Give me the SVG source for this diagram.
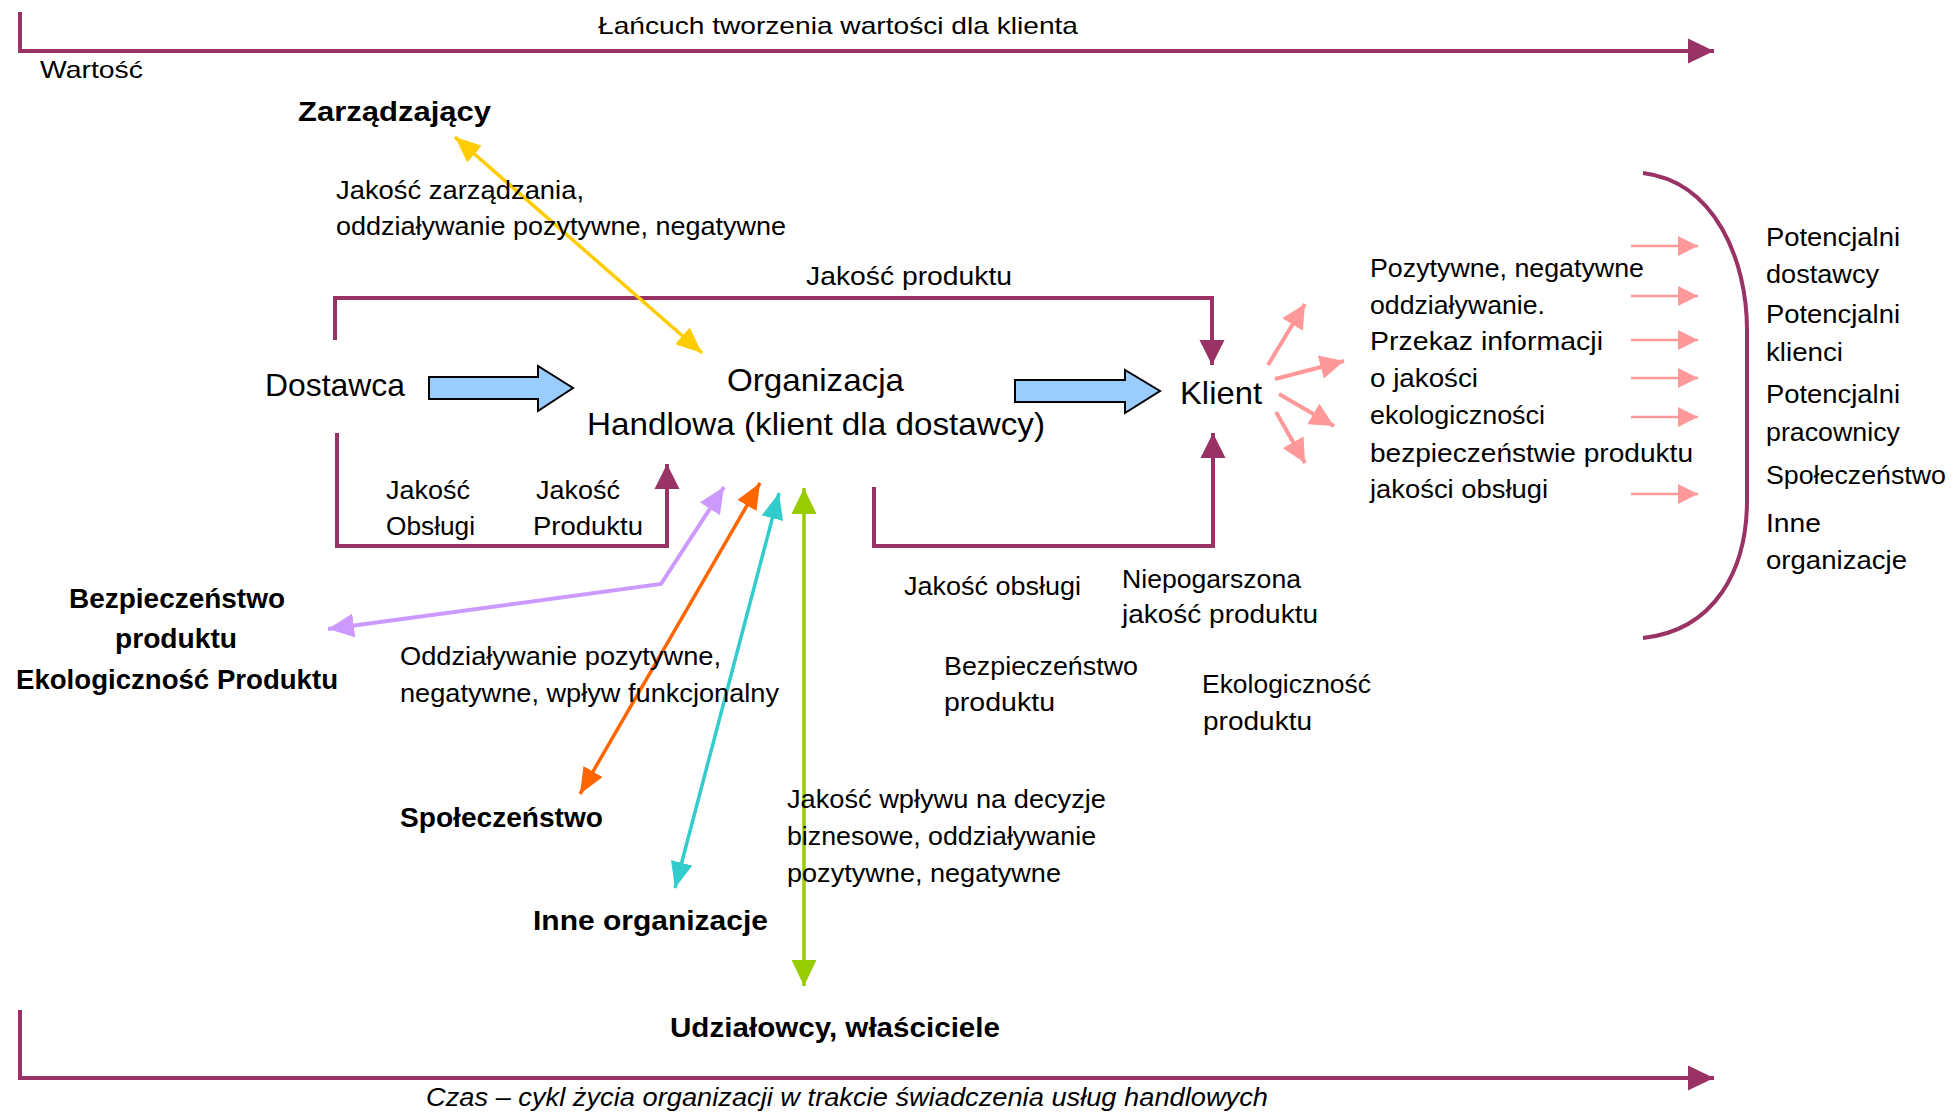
<svg xmlns="http://www.w3.org/2000/svg" width="1955" height="1114" viewBox="0 0 1955 1114">
<style>
text{font-family:"Liberation Sans",Arial,sans-serif;font-size:25px;fill:#000}
.s24{font-size:24px}
.b{font-weight:bold;font-size:28px}
.big{font-size:32px}
.it{font-style:italic}
.pl{fill:none;stroke:#993366;stroke-width:4}
.blue{fill:#99CCFF;stroke:#000;stroke-width:2}
.pk{stroke:#FF9999;stroke-width:4;fill:none}
.pks{stroke:#FF9999;stroke-width:2.5;fill:none}
</style>
<defs>
<marker id="mPB" markerUnits="userSpaceOnUse" markerWidth="26" markerHeight="26" viewBox="0 0 26 26" refX="26" refY="13" orient="auto-start-reverse"><path d="M0,0.5 L26,13 L0,25.5 z" fill="#993366"/></marker>
<marker id="mP" markerUnits="userSpaceOnUse" markerWidth="25" markerHeight="26" viewBox="0 0 25 26" refX="25" refY="13" orient="auto-start-reverse"><path d="M0,0.5 L25,13 L0,25.5 z" fill="#993366"/></marker>
<marker id="mY" markerUnits="userSpaceOnUse" markerWidth="26" markerHeight="22" viewBox="0 0 26 22" refX="26" refY="11" orient="auto-start-reverse"><path d="M0,0 L26,11 L0,22 z" fill="#FFCC00"/></marker>
<marker id="mL" markerUnits="userSpaceOnUse" markerWidth="26" markerHeight="24" viewBox="0 0 26 24" refX="26" refY="12" orient="auto-start-reverse"><path d="M0,0 L26,12 L0,24 z" fill="#CC99FF"/></marker>
<marker id="mO" markerUnits="userSpaceOnUse" markerWidth="26" markerHeight="22" viewBox="0 0 26 22" refX="26" refY="11" orient="auto-start-reverse"><path d="M0,0 L26,11 L0,22 z" fill="#FF6600"/></marker>
<marker id="mC" markerUnits="userSpaceOnUse" markerWidth="26" markerHeight="22" viewBox="0 0 26 22" refX="26" refY="11" orient="auto-start-reverse"><path d="M0,0 L26,11 L0,22 z" fill="#33CCCC"/></marker>
<marker id="mG" markerUnits="userSpaceOnUse" markerWidth="26" markerHeight="25" viewBox="0 0 26 25" refX="26" refY="12.5" orient="auto-start-reverse"><path d="M0,0 L26,12.5 L0,25 z" fill="#99CC00"/></marker>
<marker id="mK" markerUnits="userSpaceOnUse" markerWidth="24" markerHeight="24" viewBox="0 0 24 24" refX="24" refY="12" orient="auto"><path d="M0,0 L24,12 L0,24 z" fill="#FF9999"/></marker>
<marker id="mKs" markerUnits="userSpaceOnUse" markerWidth="20" markerHeight="20" viewBox="0 0 20 20" refX="20" refY="10" orient="auto"><path d="M0,0 L20,10 L0,20 z" fill="#FF9999"/></marker>
</defs>
<rect width="1955" height="1114" fill="#fff"/>

<g id="connectors">
<path class="pl" d="M20,12 L20,51 L1714,51" marker-end="url(#mPB)"/>
<path class="pl" d="M20,1010 L20,1078 L1714,1078" marker-end="url(#mPB)"/>
<path class="pl" d="M335,340 L335,298 L1212,298 L1212,365" marker-end="url(#mP)"/>
<path class="pl" d="M337,433 L337,546 L667,546 L667,464" marker-end="url(#mP)"/>
<path class="pl" d="M874,487 L874,546 L1213,546 L1213,433" marker-end="url(#mP)"/>
<path d="M455,137 L702,353" stroke="#FFCC00" stroke-width="3.5" fill="none" marker-start="url(#mY)" marker-end="url(#mY)"/>
<path d="M724,487 L661,584 L328,629" stroke="#CC99FF" stroke-width="4" fill="none" marker-start="url(#mL)" marker-end="url(#mL)"/>
<path d="M760,483 L580,794" stroke="#FF6600" stroke-width="3.5" fill="none" marker-start="url(#mO)" marker-end="url(#mO)"/>
<path d="M779,493 L675,888" stroke="#33CCCC" stroke-width="3.5" fill="none" marker-start="url(#mC)" marker-end="url(#mC)"/>
<path d="M804,488 L804,986" stroke="#99CC00" stroke-width="3.5" fill="none" marker-start="url(#mG)" marker-end="url(#mG)"/>
<path class="pk" d="M1268,365 L1305,304" marker-end="url(#mK)"/>
<path class="pk" d="M1275,379 L1344,361" marker-end="url(#mK)"/>
<path class="pk" d="M1279,394 L1334,426" marker-end="url(#mK)"/>
<path class="pk" d="M1276,412 L1305,463" marker-end="url(#mK)"/>
<path class="pks" d="M1631,246 L1698,246" marker-end="url(#mKs)"/>
<path class="pks" d="M1631,296 L1698,296" marker-end="url(#mKs)"/>
<path class="pks" d="M1631,340 L1698,340" marker-end="url(#mKs)"/>
<path class="pks" d="M1631,378 L1698,378" marker-end="url(#mKs)"/>
<path class="pks" d="M1631,417 L1698,417" marker-end="url(#mKs)"/>
<path class="pks" d="M1631,494 L1698,494" marker-end="url(#mKs)"/>
<path class="pl" d="M1643,173 C1715,182 1747,260 1747,330 L1747,500 C1747,570 1715,630 1643,638"/>
<polygon class="blue" points="429,377 538,377 538,366 573,388 538,411 538,399 429,399"/>
<polygon class="blue" points="1015,380 1125,380 1125,370 1160,391 1125,413 1125,402 1015,402"/>
</g>

<g id="axis-value">
<text class="s24" x="598" y="34" textLength="480" lengthAdjust="spacingAndGlyphs">Łańcuch tworzenia wartości dla klienta</text>
<text class="s24" x="40" y="78" textLength="103" lengthAdjust="spacingAndGlyphs">Wartość</text>
</g>
<g id="axis-time">
<text class="it" x="426" y="1106" textLength="842" lengthAdjust="spacingAndGlyphs">Czas – cykl życia organizacji w trakcie świadczenia usług handlowych</text>
</g>
<g id="node-zarzadzajacy">
<text class="b" x="298" y="121" textLength="193" lengthAdjust="spacingAndGlyphs">Zarządzający</text>
</g>
<g id="label-zarzadzanie">
<text x="336" y="199" textLength="248" lengthAdjust="spacingAndGlyphs">Jakość zarządzania,</text>
<text x="336" y="235" textLength="450" lengthAdjust="spacingAndGlyphs">oddziaływanie pozytywne, negatywne</text>
</g>
<g id="label-jakosc-produktu">
<text x="806" y="285" textLength="206" lengthAdjust="spacingAndGlyphs">Jakość produktu</text>
</g>
<g id="node-dostawca">
<text class="big" x="265" y="396" textLength="140" lengthAdjust="spacingAndGlyphs">Dostawca</text>
</g>
<g id="node-organizacja">
<text class="big" x="727" y="391" textLength="177" lengthAdjust="spacingAndGlyphs">Organizacja</text>
<text class="big" x="587" y="435" textLength="458" lengthAdjust="spacingAndGlyphs">Handlowa (klient dla dostawcy)</text>
</g>
<g id="node-klient">
<text class="big" x="1180" y="404" textLength="82" lengthAdjust="spacingAndGlyphs">Klient</text>
</g>
<g id="label-oddzialywanie-klient">
<text x="1370" y="277" textLength="274" lengthAdjust="spacingAndGlyphs">Pozytywne, negatywne</text>
<text x="1370" y="314" textLength="175" lengthAdjust="spacingAndGlyphs">oddziaływanie.</text>
<text x="1370" y="350" textLength="233" lengthAdjust="spacingAndGlyphs">Przekaz informacji</text>
<text x="1370" y="387" textLength="108" lengthAdjust="spacingAndGlyphs">o jakości</text>
<text x="1370" y="424" textLength="175" lengthAdjust="spacingAndGlyphs">ekologiczności</text>
<text x="1370" y="462" textLength="323" lengthAdjust="spacingAndGlyphs">bezpieczeństwie produktu</text>
<text x="1370" y="498" textLength="178" lengthAdjust="spacingAndGlyphs">jakości obsługi</text>
</g>
<g id="node-potencjalni">
<text x="1766" y="246" textLength="134" lengthAdjust="spacingAndGlyphs">Potencjalni</text>
<text x="1766" y="283" textLength="113" lengthAdjust="spacingAndGlyphs">dostawcy</text>
<text x="1766" y="323" textLength="134" lengthAdjust="spacingAndGlyphs">Potencjalni</text>
<text x="1766" y="361" textLength="77" lengthAdjust="spacingAndGlyphs">klienci</text>
<text x="1766" y="403" textLength="134" lengthAdjust="spacingAndGlyphs">Potencjalni</text>
<text x="1766" y="441" textLength="134" lengthAdjust="spacingAndGlyphs">pracownicy</text>
<text x="1766" y="484" textLength="180" lengthAdjust="spacingAndGlyphs">Społeczeństwo</text>
<text x="1766" y="532" textLength="55" lengthAdjust="spacingAndGlyphs">Inne</text>
<text x="1766" y="569" textLength="141" lengthAdjust="spacingAndGlyphs">organizacje</text>
</g>
<g id="label-dostawca-loop">
<text x="386" y="499" textLength="84" lengthAdjust="spacingAndGlyphs">Jakość</text>
<text x="386" y="535" textLength="89" lengthAdjust="spacingAndGlyphs">Obsługi</text>
<text x="536" y="499" textLength="84" lengthAdjust="spacingAndGlyphs">Jakość</text>
<text x="533" y="535" textLength="110" lengthAdjust="spacingAndGlyphs">Produktu</text>
</g>
<g id="label-klient-loop">
<text x="904" y="595" textLength="177" lengthAdjust="spacingAndGlyphs">Jakość obsługi</text>
<text x="1122" y="588" textLength="179" lengthAdjust="spacingAndGlyphs">Niepogarszona</text>
<text x="1122" y="623" textLength="196" lengthAdjust="spacingAndGlyphs">jakość produktu</text>
<text x="944" y="675" textLength="194" lengthAdjust="spacingAndGlyphs">Bezpieczeństwo</text>
<text x="944" y="711" textLength="111" lengthAdjust="spacingAndGlyphs">produktu</text>
<text x="1202" y="693" textLength="169" lengthAdjust="spacingAndGlyphs">Ekologiczność</text>
<text x="1203" y="730" textLength="109" lengthAdjust="spacingAndGlyphs">produktu</text>
</g>
<g id="node-bezpieczenstwo">
<text class="b" x="69" y="608" textLength="216" lengthAdjust="spacingAndGlyphs">Bezpieczeństwo</text>
<text class="b" x="115" y="648" textLength="122" lengthAdjust="spacingAndGlyphs">produktu</text>
<text class="b" x="16" y="689" textLength="322" lengthAdjust="spacingAndGlyphs">Ekologiczność Produktu</text>
</g>
<g id="label-spoleczenstwo">
<text x="400" y="665" textLength="321" lengthAdjust="spacingAndGlyphs">Oddziaływanie pozytywne,</text>
<text x="400" y="702" textLength="379" lengthAdjust="spacingAndGlyphs">negatywne, wpływ funkcjonalny</text>
</g>
<g id="node-spoleczenstwo">
<text class="b" x="400" y="827" textLength="203" lengthAdjust="spacingAndGlyphs">Społeczeństwo</text>
</g>
<g id="node-inne-organizacje">
<text class="b" x="533" y="930" textLength="235" lengthAdjust="spacingAndGlyphs">Inne organizacje</text>
</g>
<g id="label-udzialowcy">
<text x="787" y="808" textLength="319" lengthAdjust="spacingAndGlyphs">Jakość wpływu na decyzje</text>
<text x="787" y="845" textLength="309" lengthAdjust="spacingAndGlyphs">biznesowe, oddziaływanie</text>
<text x="787" y="882" textLength="274" lengthAdjust="spacingAndGlyphs">pozytywne, negatywne</text>
</g>
<g id="node-udzialowcy">
<text class="b" x="670" y="1037" textLength="330" lengthAdjust="spacingAndGlyphs">Udziałowcy, właściciele</text>
</g>
</svg>
